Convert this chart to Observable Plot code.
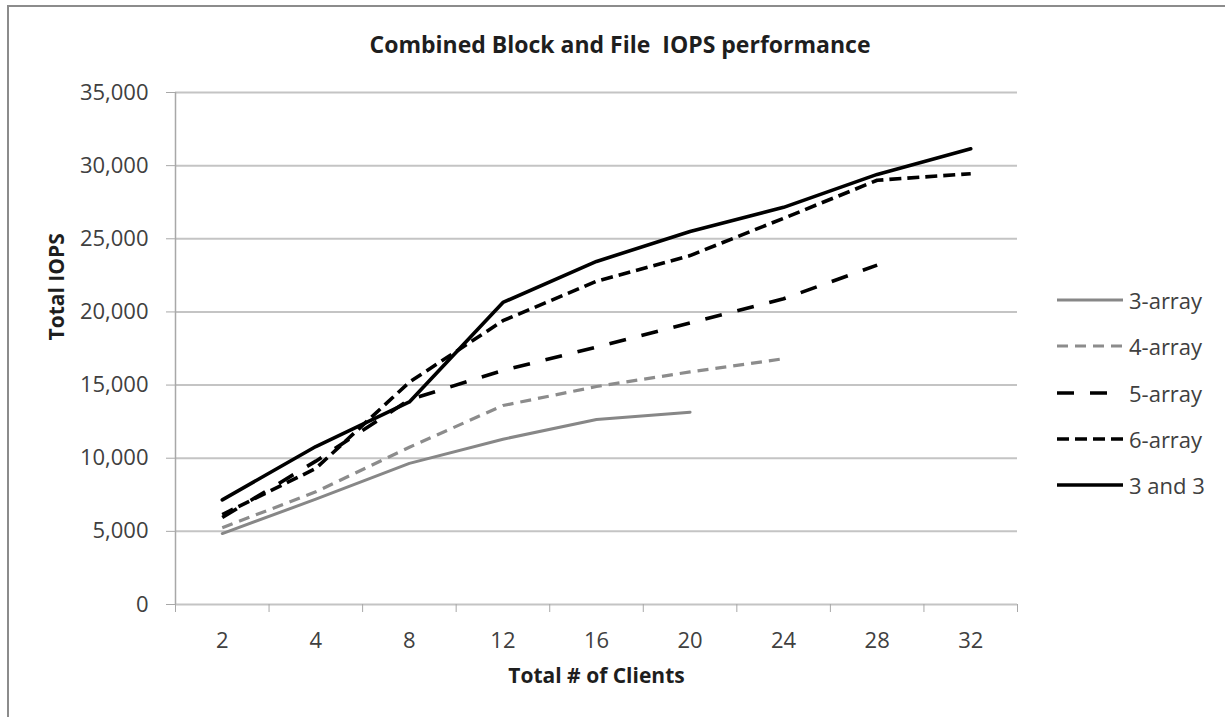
<!DOCTYPE html>
<html>
<head>
<meta charset="utf-8">
<script src="https://cdn.jsdelivr.net/npm/d3@7"></script>
<script src="https://cdn.jsdelivr.net/npm/@observablehq/plot@0.6"></script>
<style>
  body { margin: 0; background: #fff; }
  #wrap { position: relative; width: 1225px; height: 717px; overflow: hidden; font-family: "Open Sans", sans-serif; background: #fff; }
  #frame { position: absolute; left: 7px; top: 5px; width: 1240px; height: 730px; border-top: 2px solid #8c8c8c; border-left: 2px solid #8c8c8c; box-sizing: border-box; pointer-events: none; }
  #title { position: absolute; left: 0; top: 29px; width: 1240px; text-align: center; font-weight: bold; font-size: 23px; line-height: 30px; color: #1e1e1e; }
  #chart { position: absolute; left: 0; top: 70px; }
  #legend { position: absolute; left: 1057px; top: 277px; }
  .row { display: flex; align-items: center; height: 46.3px; font-size: 22px; color: #404040; }
  .row svg { margin-right: 6px; }
</style>
</head>
<body>
<div id="wrap">
  <div id="frame"></div>
  <div id="title">Combined Block and File&nbsp; IOPS performance</div>
  <div id="chart"></div>
  <div id="legend"></div>
</div>
<script>
const categories = ["2", "4", "8", "12", "16", "20", "24", "28", "32"];
const seriesNames = ["3-array", "4-array", "5-array", "6-array", "3 and 3"];
const array3 = [4850, 7200, 9650, 11300, 12650, 13150];
const array4 = [5250, 7700, 10750, 13600, 14900, 15900, 16800];
const array5 = [5950, 9800, 14000, 16000, 17600, 19250, 20900, 23200];
const array6 = [6150, 9300, 15200, 19400, 22100, 23850, 26400, 29000, 29450];
const array3and3 = [7150, 10800, 13850, 20650, 23450, 25500, 27150, 29400, 31150];
const yTicks = [0, 5000, 10000, 15000, 20000, 25000, 30000, 35000];

const seriesValues = [array3, array4, array5, array6, array3and3];
const styles = [
  {stroke: "#878787", strokeWidth: 3, strokeDasharray: null},
  {stroke: "#8c8c8c", strokeWidth: 3.2, strokeDasharray: "11,7"},
  {stroke: "#000000", strokeWidth: 3.6, strokeDasharray: "17,16"},
  {stroke: "#000000", strokeWidth: 3.6, strokeDasharray: "12,6"},
  {stroke: "#000000", strokeWidth: 3.6, strokeDasharray: null}
];

const data = seriesNames.map((name, s) =>
  seriesValues[s].map((v, i) => ({series: name, i, value: v}))
);

const centers = categories.map((_, i) => i);
const boundaries = categories.map((_, i) => i - 0.5).concat([categories.length - 0.5]);
const xDomain = [-0.5, categories.length - 0.5];

const lineMarks = data.map((d, s) =>
  Plot.line(d, {
    x: "i", y: "value",
    stroke: styles[s].stroke,
    strokeWidth: styles[s].strokeWidth,
    strokeDasharray: styles[s].strokeDasharray || undefined,
    strokeLinejoin: "round",
    strokeLinecap: styles[s].strokeDasharray ? "butt" : "round"
  })
);

const chart = Plot.plot({
  width: 1225,
  height: 640,
  marginTop: 22,
  marginBottom: 106,
  marginLeft: 175,
  marginRight: 208,
  style: {fontFamily: "Open Sans, sans-serif", fontSize: "22px", color: "#404040", background: "transparent"},
  x: {type: "linear", domain: xDomain},
  y: {domain: [0, 35000]},
  marks: [
    Plot.ruleY(yTicks, {stroke: "#c4c4c4", strokeWidth: 2}),
    Plot.ruleX([xDomain[0]], {y1: 0, y2: 35000, stroke: "#a8a8a8", strokeWidth: 1.5}),
    Plot.axisY({ticks: yTicks, tickFormat: d3.format(","), tickSize: 9, tickPadding: 18, stroke: "#a8a8a8", label: null}),
    Plot.axisX({ticks: boundaries, tickFormat: () => "", tickSize: 8, stroke: "#a8a8a8", label: null}),
    Plot.axisX({ticks: centers, tickFormat: i => categories[i], tickSize: 0, tickPadding: 28, label: null}),
    Plot.text(["Total # of Clients"], {frameAnchor: "bottom", dy: 78, fontWeight: "bold", fill: "#1e1e1e", fontSize: 21}),
    Plot.text(["Total IOPS"], {frameAnchor: "left", dx: -118, dy: -8, rotate: -90, fontWeight: "bold", fill: "#1e1e1e", fontSize: 21}),
    ...lineMarks
  ]
});
document.getElementById("chart").appendChild(chart);

const legend = document.getElementById("legend");
seriesNames.forEach((name, s) => {
  const row = document.createElement("div");
  row.className = "row";
  const st = styles[s];
  row.innerHTML = `<svg width="66" height="10"><line x1="0" y1="5" x2="66" y2="5" stroke="${st.stroke}" stroke-width="${st.strokeWidth}" ${st.strokeDasharray ? `stroke-dasharray="${st.strokeDasharray}"` : ""}/></svg><span>${name}</span>`;
  legend.appendChild(row);
});
</script>
</body>
</html>
